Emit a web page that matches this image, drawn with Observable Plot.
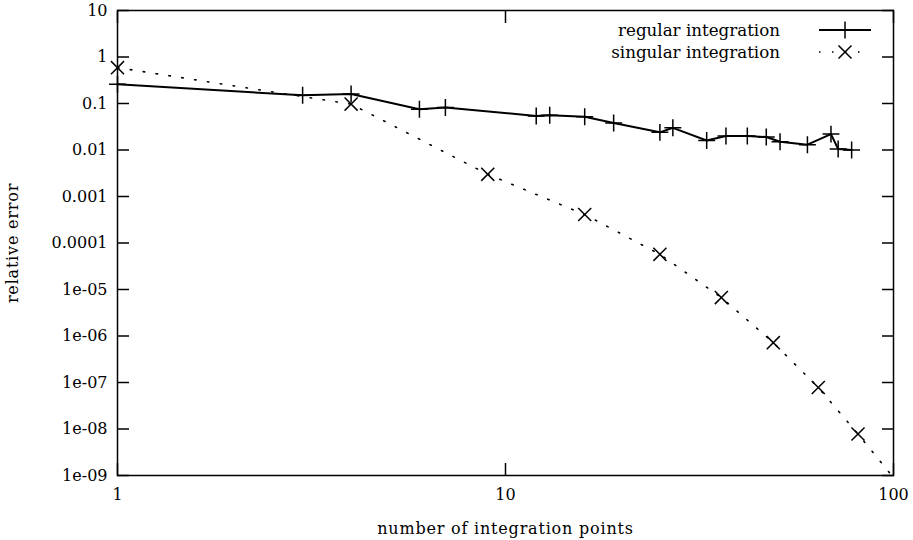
<!DOCTYPE html>
<html><head><meta charset="utf-8">
<script src="https://cdn.jsdelivr.net/npm/d3@7"></script>
<script src="https://cdn.jsdelivr.net/npm/@observablehq/plot@0.6"></script>
<style>
body{margin:0;background:#fff;}
#chart{position:relative;width:913px;height:540px;}
</style></head><body><div id="chart"></div>
<script>
const regularN   = [1, 3, 4, 6, 7, 12, 13, 16, 19, 25, 27, 33, 37, 42, 47, 51, 60, 69, 72, 78];
const regularErr = [0.26, 0.15, 0.16, 0.075, 0.082, 0.054, 0.056, 0.052, 0.038, 0.024, 0.030, 0.016, 0.020, 0.020, 0.019, 0.015, 0.013, 0.022, 0.0105, 0.010];
const singularN   = [1, 4, 9, 16, 25, 36, 49, 64, 81, 100];
const singularErr = [0.59, 0.097, 0.003, 0.00041, 5.7e-5, 6.7e-6, 7.2e-7, 7.8e-8, 7.8e-9, 9e-10];
const seriesNames = ["regular integration", "singular integration"];
const yTicks = [10, 1, 0.1, 0.01, 0.001, 0.0001, 1e-5, 1e-6, 1e-7, 1e-8, 1e-9];
const yTickLabels = ["10", "1", "0.1", "0.01", "0.001", "0.0001", "1e-05", "1e-06", "1e-07", "1e-08", "1e-09"];
const xTicks = [1, 10, 100];
const xTickLabels = ["1", "10", "100"];
const xLabel = "number of integration points";
const yLabel = "relative error";

const regular = regularN.map((n, i) => ({n, err: regularErr[i]}));
const singular = singularN.map((n, i) => ({n, err: singularErr[i]}));
const yMin = 1e-9, yMax = 10;
const FONT = "'DejaVu Serif', 'Liberation Serif', serif";

const chart = Plot.plot({
  width: 913, height: 540,
  marginLeft: 117, marginRight: 20, marginTop: 10, marginBottom: 65,
  style: {fontFamily: FONT, fontSize: "16px", color: "#000", background: "#fff"},
  x: {type: "log", domain: [1, 100]},
  y: {type: "log", domain: [yMin, yMax]},
  marks: [
    Plot.axisY({anchor: "left", ticks: yTicks, tickFormat: d => yTickLabels[yTicks.indexOf(d)],
      tickSize: -12, tickPadding: 22, strokeWidth: 1.5, fontSize: 16,
      label: yLabel, labelAnchor: "center", labelOffset: 111, labelArrow: "none"}),
    Plot.axisY({anchor: "right", ticks: yTicks, tickFormat: () => "", tickSize: -12, strokeWidth: 1.5, label: null}),
    Plot.axisX({anchor: "bottom", ticks: xTicks, tickFormat: d => xTickLabels[xTicks.indexOf(d)],
      tickSize: -12, tickPadding: 25, strokeWidth: 1.5, fontSize: 16,
      label: xLabel, labelAnchor: "center", labelOffset: 58, labelArrow: "none"}),
    Plot.axisX({anchor: "top", ticks: xTicks, tickFormat: () => "", tickSize: -12, strokeWidth: 1.5, label: null}),
    Plot.frame({stroke: "#000", strokeWidth: 1.5}),
    Plot.line(regular, {x: "n", y: "err", stroke: "#000", strokeWidth: 2, clip: true}),
    Plot.dot(regular, {x: "n", y: "err", symbol: "plus", r: 5.5, stroke: "#000", strokeWidth: 1.5}),
    Plot.line(singular, {x: "n", y: "err", stroke: "#000", strokeWidth: 1.6, strokeDasharray: "1.5,11.5", clip: true}),
    Plot.dot(singular, {x: "n", y: "err", symbol: "times", r: 6, stroke: "#000", strokeWidth: 1.5,
      filter: d => d.err >= yMin && d.err <= yMax})
  ]
});
document.getElementById("chart").appendChild(chart);
d3.select(chart).selectAll("[aria-label$='axis label'] text").attr("letter-spacing", "0.8px");

// legend inside the plot area, top-right (gnuplot style)
const frameRight = 913 - 20, frameTop = 10;
const svg = d3.select(chart);
const lg = svg.append("g").attr("font-family", FONT).attr("font-size", 16.7);
const rows = [
  {name: seriesNames[0], dash: null, sym: d3.symbolPlus, size: 96, w: 2},
  {name: seriesNames[1], dash: "1.5,11.5", sym: d3.symbolTimes, size: 112, w: 1.6}
];
rows.forEach((r, i) => {
  const cy = frameTop + 20 + i * 22;
  lg.append("text").attr("x", frameRight - 113).attr("y", cy).attr("text-anchor", "end")
    .attr("dominant-baseline", "central").text(r.name);
  lg.append("line").attr("x1", frameRight - 74).attr("x2", frameRight - 22).attr("y1", cy).attr("y2", cy)
    .attr("stroke", "#000").attr("stroke-width", r.w).attr("stroke-dasharray", r.dash);
  lg.append("path").attr("transform", `translate(${frameRight - 48},${cy})`)
    .attr("d", d3.symbol(r.sym, r.size)()).attr("fill", "none").attr("stroke", "#000").attr("stroke-width", 1.5);
});
</script></body></html>
